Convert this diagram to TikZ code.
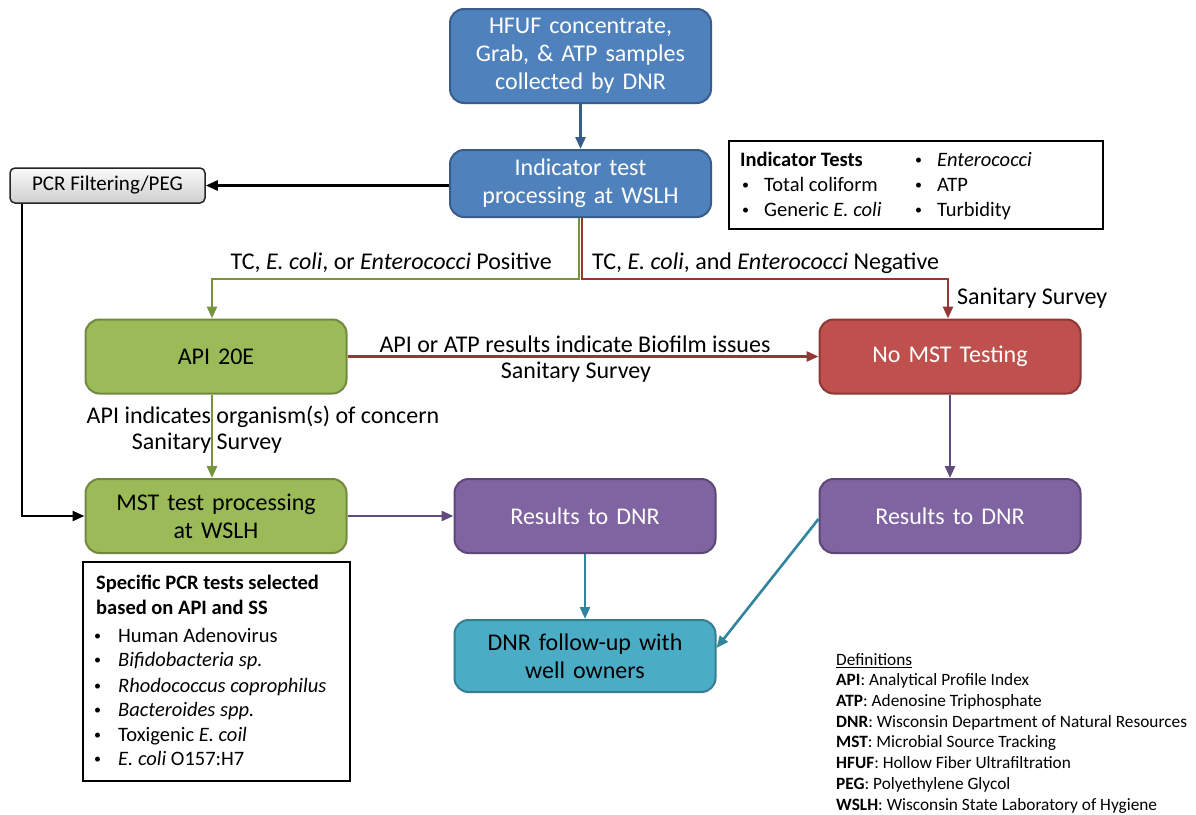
\documentclass[tikz,border=0pt]{standalone}
\usepackage{fontspec}
\setmainfont{Carlito}
\usetikzlibrary{arrows.meta,calc}
\definecolor{bfill}{HTML}{4F81BD}\definecolor{bline}{HTML}{385D8A}
\definecolor{gfill}{HTML}{9BBB59}\definecolor{gline}{HTML}{71893F}\definecolor{garr}{HTML}{77933C}
\definecolor{rfill}{HTML}{C0504D}\definecolor{rline}{HTML}{8C3836}\definecolor{rarr}{HTML}{953735}
\definecolor{pfill}{HTML}{8064A2}\definecolor{pline}{HTML}{5C4776}\definecolor{parr}{HTML}{604A7B}
\definecolor{tfill}{HTML}{4BACC6}\definecolor{tline}{HTML}{357D91}\definecolor{tarr}{HTML}{31859C}
\newcommand{\smbul}{\raisebox{2pt}{\fontsize{14}{14}\selectfont •}}
\begin{document}
\begin{tikzpicture}[x=1pt,y=-1pt,
  proc/.style={rounded corners=14pt, line width=2pt, minimum width=261pt, minimum height=74pt,
    align=center, inner sep=4pt, text width=250pt, font=\fontsize{24}{28}\selectfont},
  bluebox/.style={proc, fill=bfill, draw=bline, text=white},
  greenbox/.style={proc, fill=gfill, draw=gline, text=black},
  redbox/.style={proc, fill=rfill, draw=rline, text=white},
  purplebox/.style={proc, fill=pfill, draw=pline, text=white},
  tealbox/.style={proc, fill=tfill, draw=tline, text=black},
  conn/.style={line width=2.6pt, -{Triangle[length=12pt,width=10pt]}},
  lbl/.style={font=\fontsize{24}{28}\selectfont, inner sep=0pt},
  itxt/.style={font=\fontsize{20.5}{25}\selectfont, inner sep=0pt, anchor=base west},
  dtxt/.style={font=\fontsize{17.3}{21}\selectfont, inner sep=0pt, anchor=base west}]
\useasboundingbox[fill=white] (0,0) rectangle (1196,814);

% process boxes
\node[bluebox, minimum height=94pt] (hfuf) at (580.5,56) {HFUF concentrate,\\Grab, \& ATP samples\\collected by DNR};
\node[bluebox, minimum height=67pt] (ind) at (580.5,183.5) {Indicator test\\processing at WSLH};
\node[greenbox] (api) at (216,356.5) {API 20E};
\node[redbox] (nomst) at (950,356.5) {No MST Testing};
\node[greenbox] (mst) at (216,516) {MST test processing\\at WSLH};
\node[purplebox] (res1) at (585,516) {Results to DNR};
\node[purplebox] (res2) at (950,516) {Results to DNR};
\node[tealbox, minimum height=72pt] (dnr) at (585,656) {DNR follow-up with\\well owners};
\node[rounded corners=5pt, line width=1.5pt, draw=black!85, top color=gray!4, bottom color=gray!38,
  minimum width=195pt, minimum height=35pt, inner sep=2pt, font=\fontsize{21}{25}\selectfont] (pcr) at (107.5,185.5) {PCR Filtering/PEG};

% connectors
\coordinate (split) at (580,279);
\coordinate (leftrail) at (22,516);
\draw[conn, draw=bline] (hfuf) -- (ind);
\draw[conn, draw=black] (ind.west |- pcr.east) -- (pcr.east);
\draw[conn, draw=black] (pcr.south -| leftrail) |- (mst.west);
\draw[conn, draw=garr] ([xshift=-1.5pt]ind.south) |- ($(api.north |- split)+(-4,0)$) -- ($(api.north)+(-4,0)$);
\draw[conn, draw=rarr] ([xshift=1.5pt]ind.south) |- ($(nomst.north |- split)+(-2,0)$) -- ($(nomst.north)+(-2,0)$);
\draw[conn, draw=rarr] (api.east) -- (nomst.west);
\draw[conn, draw=garr] ($(api.south)+(-4,0)$) -- ($(mst.north)+(-4,0)$);
\draw[conn, draw=parr] (mst.east) -- (res1.west);
\draw[conn, draw=parr] (nomst.south) -- (res2.north);
\draw[conn, draw=tarr] (res1.south) -- (dnr.north);
\draw[conn, draw=tarr] ($(res2.west)+(0,3)$) -- ($(dnr.east)+(0,-8)$);

% connector labels
\node[lbl, anchor=east] (lpos) at (552,263) {TC, \textit{E. coli}, or \textit{Enterococci} Positive};
\node[lbl, anchor=west] (lneg) at (592,263) {TC, \textit{E. coli}, and \textit{Enterococci} Negative};
\node[lbl, anchor=west] (lss1) at (957,298) {Sanitary Survey};
\node[lbl] (lbio) at (575,344) {API or ATP results indicate Biofilm issues};
\node[lbl] (lss2) at (576,372) {Sanitary Survey};
\node[lbl] (lorg) at (263,417) {API indicates organism(s) of concern};
\node[lbl] (lss3) at (207,443) {Sanitary Survey};

% indicator tests box
\node[draw, line width=1.8pt, minimum width=374pt, minimum height=88pt, anchor=north west, inner sep=0pt] (itbox) at (728,140) {};
\node[itxt] (it0) at (740,166) {\textbf{Indicator Tests}};
\node[itxt] (it1b) at (742,191) {\smbul};
\node[itxt] (it1) at (764,191) {Total coliform};
\node[itxt] (it2b) at (742,216) {\smbul};
\node[itxt] (it2) at (764,216) {Generic \textit{E. coli}};
\node[itxt] (it3b) at (915,166) {\smbul};
\node[itxt] (it3) at (937,166) {\textit{Enterococci}};
\node[itxt] (it4b) at (915,191) {\smbul};
\node[itxt] (it4) at (937,191) {ATP};
\node[itxt] (it5b) at (915,216) {\smbul};
\node[itxt] (it5) at (937,216) {Turbidity};

% specific PCR tests box
\node[draw, line width=1.8pt, minimum width=267pt, minimum height=219pt, anchor=north west, inner sep=0pt] (pcrbox) at (82,561) {};
\node[itxt] (sp0) at (96,589) {\textbf{Specific PCR tests selected}};
\node[itxt] (sp1) at (96,614) {\textbf{based on API and SS}};
\node[itxt] (sb1) at (94,642) {\smbul};
\node[itxt] (st1) at (118,642) {Human Adenovirus};
\node[itxt] (sb2) at (94,666) {\smbul};
\node[itxt] (st2) at (118,666) {\textit{Bifidobacteria sp.}};
\node[itxt] (sb3) at (94,692) {\smbul};
\node[itxt] (st3) at (118,692) {\textit{Rhodococcus coprophilus}};
\node[itxt] (sb4) at (94,716) {\smbul};
\node[itxt] (st4) at (118,716) {\textit{Bacteroides spp.}};
\node[itxt] (sb5) at (94,741) {\smbul};
\node[itxt] (st5) at (118,741) {Toxigenic \textit{E. coil}};
\node[itxt] (sb6) at (94,765) {\smbul};
\node[itxt] (st6) at (118,765) {\textit{E. coli} O157:H7};

% definitions
\node[dtxt] (d0) at (836,665.5) {\underline{Definitions}};
\node[dtxt] (d1) at (836,685.5) {\textbf{API}: Analytical Profile Index};
\node[dtxt] (d2) at (836,706.5) {\textbf{ATP}: Adenosine Triphosphate};
\node[dtxt] (d3) at (836,727.5) {\textbf{DNR}: Wisconsin Department of Natural Resources};
\node[dtxt] (d4) at (836,747.5) {\textbf{MST}: Microbial Source Tracking};
\node[dtxt] (d5) at (836,768.5) {\textbf{HFUF}: Hollow Fiber Ultrafiltration};
\node[dtxt] (d6) at (836,789.5) {\textbf{PEG}: Polyethylene Glycol};
\node[dtxt] (d7) at (836,810) {\textbf{WSLH}: Wisconsin State Laboratory of Hygiene};
\end{tikzpicture}
\end{document}
